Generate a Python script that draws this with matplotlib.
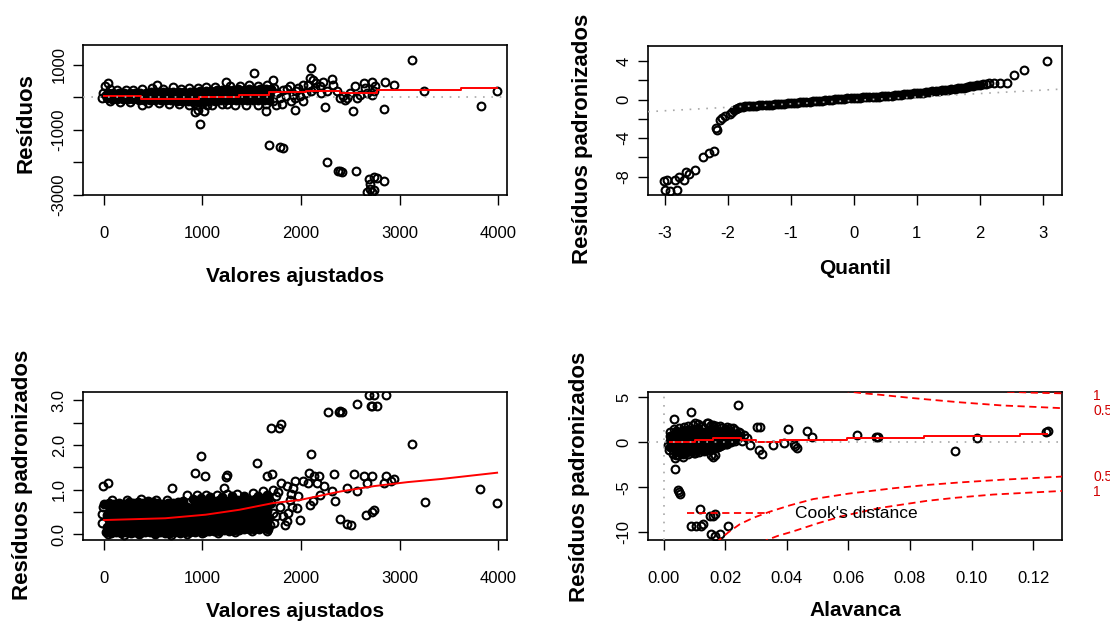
import matplotlib
matplotlib.use("Agg")
import matplotlib.pyplot as plt

plt.rcParams["font.family"] = ["Liberation Sans", "DejaVu Sans"]

MARKER_SIZE = 5.6
MARKER_EDGE = 1.5
RED = "#ff0000"
GRAY = "#a8a8a8"
DOTTED = (0, (1, 4))

# ---------------------------------------------------------------------------
# Panel 1: residuals vs fitted values
# The band near zero is so overplotted that it prints solid black, so its core
# is kept apart and drawn with filled markers.
# ---------------------------------------------------------------------------
P1_DENSE = [
    # middle of the band
    (20, 60), (70, 55), (125, 50), (180, 45), (235, 40), (290, 40), (345, 35), (400, 35),
    (455, 30), (510, 35), (565, 30), (620, 35), (675, 30), (730, 35), (785, 30), (840, 30),
    (895, 25), (950, 20), (1005, 30), (1060, 40), (1115, 50), (1170, 60), (1225, 70), (1280, 75),
    (1335, 80), (1390, 90), (1445, 90), (1500, 100), (1555, 100), (1610, 110), (1665, 110),
    # upper part of the band
    (40, 150), (95, 140), (150, 130), (205, 125), (260, 135), (315, 130), (370, 140), (425, 150),
    (480, 155), (540, 155), (595, 160), (650, 155), (705, 160), (760, 165), (815, 160), (870, 170),
    (925, 180), (980, 190), (1035, 205), (1090, 200), (1145, 220), (1200, 215), (1255, 230),
    (1310, 225), (1365, 245), (1420, 235), (1475, 255), (1530, 240), (1585, 260), (1640, 245),
    (1695, 270),
    # lower part of the band
    (30, -20), (80, -35), (135, -45), (190, -50), (245, -60), (300, -60), (355, -70), (410, -75),
    (465, -80), (520, -85), (575, -90), (630, -90), (685, -95), (740, -100), (795, -105),
    (850, -110), (905, -130), (960, -140), (1015, -130), (1070, -115), (1125, -105), (1180, -95),
    (1235, -90), (1290, -85), (1345, -90), (1400, -80), (1455, -85), (1510, -75), (1565, -85),
    (1620, -80), (1675, -90),
]
P1_POINTS = [
    # rings sticking out of the band
    (-10, 120), (60, 250), (130, 230), (220, 240), (300, 220), (390, 250), (486, 283), (537, 385),
    (600, 260), (700, 316), (780, 270), (860, 280), (950, 300), (1040, 320), (1130, 330),
    (1235, 490), (1280, 350), (1380, 360), (1470, 370), (1525, 745), (1560, 360), (1650, 380),
    (-15, -10), (60, -120), (160, -140), (260, -150), (382, -225), (450, -170), (560, -180),
    (660, -190), (760, -200), (860, -220), (940, -250), (1050, -230), (1100, -240), (1200, -190),
    (1250, -210), (1330, -230), (1440, -230), (1560, -250), (1640, -190),
    # thinner scatter after 1700
    (1679, 82), (1713, -122), (1747, -224), (1782, -20), (1808, -194), (1816, 235), (1850, 31),
    (1884, 337), (1901, -122), (1918, 82), (1952, 184), (1986, 31), (2020, -122), (2020, 388),
    (2055, 133), (2072, 388), (2090, 600), (2106, 184), (2125, 540), (2140, 286), (2157, 439),
    (2191, 337), (2208, 133), (2225, 490), (2259, 184), (1760, 150), (1730, 300), (1860, 250),
    (1940, -20), (1970, 300),
    (2328, 388), (2362, 184), (2396, -20), (2430, 31), (2447, -71), (2464, -20), (2498, 133),
    (2549, 337), (2567, -20), (2601, 82), (2652, 286), (2669, 133), (2720, 82), (2737, 184),
    (2754, 337),
    # isolated points
    (7, 337), (41, 439), (1713, 541), (2106, 898), (2311, 561), (3130, 1153), (2635, 439),
    (2720, 490), (2857, 490), (2942, 388), (3249, 184), (3990, 184), (3829, -255), (2840, -357),
    (2242, -306), (2532, -429), (1645, -429), (1935, -378), (1014, -429), (928, -459),
    (950, -400), (980, -816), (1679, -1469), (1782, -1520), (1816, -1551), (2266, -1980),
    (2379, -2265), (2396, -2280), (2413, -2296), (2560, -2265), (2686, -2520), (2737, -2469),
    (2771, -2500), (2703, -2673), (2840, -2571), (2669, -2908), (2703, -2827), (2720, -2929),
    (2737, -2870),
]
P1_SMOOTH_X = [0, 380, 960, 1370, 1680, 2050, 2400, 2770, 3620, 3990]
P1_SMOOTH_Y = [31, -51, 0, 71, 153, 184, 133, 214, 286, 286]

# ---------------------------------------------------------------------------
# Panel 2: normal Q-Q of the standardised residuals
# ---------------------------------------------------------------------------
P2_DENSE = [
    (-1.90, -1.08), (-1.87, -0.98), (-1.84, -0.90),
    (-1.80, -0.80), (-1.76, -0.75), (-1.72, -0.71), (-1.68, -0.68), (-1.64, -0.66),
    (-1.60, -0.64), (-1.55, -0.62), (-1.50, -0.60), (-1.45, -0.58), (-1.40, -0.56),
    (-1.35, -0.54), (-1.30, -0.52), (-1.25, -0.50), (-1.20, -0.48), (-1.15, -0.46),
    (-1.10, -0.43), (-1.05, -0.40), (-1.00, -0.37), (-0.95, -0.35), (-0.90, -0.33),
    (-0.85, -0.30), (-0.80, -0.27), (-0.75, -0.24), (-0.70, -0.21), (-0.65, -0.18),
    (-0.60, -0.15), (-0.55, -0.12), (-0.50, -0.10), (-0.45, -0.08), (-0.40, -0.05),
    (-0.35, -0.02), (-0.30, 0.01), (-0.25, 0.04), (-0.20, 0.07), (-0.15, 0.10),
    (-0.10, 0.12), (-0.05, 0.14), (0.00, 0.16), (0.05, 0.18), (0.10, 0.20),
    (0.15, 0.22), (0.20, 0.23), (0.25, 0.25), (0.30, 0.26), (0.35, 0.28),
    (0.40, 0.30), (0.45, 0.33), (0.50, 0.36), (0.55, 0.39), (0.60, 0.42),
    (0.65, 0.45), (0.70, 0.48), (0.75, 0.51), (0.80, 0.54), (0.85, 0.57),
    (0.90, 0.60), (0.95, 0.63), (1.00, 0.67), (1.05, 0.70), (1.10, 0.73),
    (1.15, 0.77), (1.20, 0.81), (1.25, 0.85), (1.30, 0.89), (1.35, 0.92),
    (1.40, 0.96), (1.45, 0.99), (1.50, 1.02), (1.55, 1.05), (1.60, 1.10),
    (1.65, 1.15), (1.70, 1.20), (1.75, 1.25), (1.80, 1.30), (1.85, 1.36),
    (1.90, 1.42), (1.95, 1.48), (2.00, 1.54),
]
P2_POINTS = [
    (-1.96, -1.45), (-1.93, -1.25), (2.05, 1.60), (2.10, 1.66), (2.15, 1.71),
    (2.23, 1.76), (2.33, 1.76), (2.44, 1.76), (2.55, 2.60), (2.71, 3.11), (3.07, 3.98),
    (-2.04, -1.73), (-2.09, -1.90), (-2.13, -2.08), (-2.17, -3.11), (-2.18, -3.00),
    (-2.22, -5.33), (-2.29, -5.54), (-2.40, -5.95), (-2.52, -7.34), (-2.62, -7.68),
    (-2.66, -7.51), (-2.69, -8.37), (-2.78, -8.03), (-2.83, -8.37), (-2.97, -8.37),
    (-3.01, -8.44), (-2.99, -9.34), (-2.91, -9.52), (-2.81, -9.41),
]
P2_LINE_INTERCEPT = -0.09
P2_LINE_SLOPE = 0.357

# ---------------------------------------------------------------------------
# Panel 3: sqrt(|standardised residuals|) vs fitted values
# ---------------------------------------------------------------------------
P3_DENSE = [
    # bottom of the cloud
    (20, 0.06), (70, 0.04), (120, 0.05), (170, 0.03), (220, 0.05), (270, 0.04), (320, 0.06),
    (370, 0.03), (420, 0.05), (470, 0.06), (520, 0.04), (570, 0.06), (620, 0.03), (670, 0.02),
    (720, 0.05), (770, 0.04), (820, 0.06), (870, 0.05), (920, 0.06), (970, 0.07), (1020, 0.05),
    (1070, 0.07), (1120, 0.08), (1170, 0.07), (1220, 0.09), (1270, 0.08), (1320, 0.10),
    (1370, 0.09), (1420, 0.12), (1470, 0.11), (1520, 0.13), (1570, 0.11), (1620, 0.14),
    (1670, 0.13),
    (30, 0.17), (90, 0.15), (150, 0.16), (210, 0.14), (270, 0.17), (330, 0.15), (390, 0.16),
    (450, 0.14), (510, 0.17), (570, 0.15), (630, 0.16), (690, 0.14), (750, 0.17), (810, 0.15),
    (870, 0.16), (930, 0.18), (990, 0.16), (1050, 0.18), (1110, 0.17), (1170, 0.19), (1230, 0.18),
    (1290, 0.20), (1350, 0.19), (1410, 0.22), (1470, 0.21), (1530, 0.23), (1590, 0.22), (1650, 0.24),
    (60, 0.30), (120, 0.29), (180, 0.31), (240, 0.30), (300, 0.28), (360, 0.31), (420, 0.29),
    (480, 0.30), (540, 0.31), (600, 0.29), (660, 0.30), (720, 0.28), (780, 0.31), (840, 0.30),
    (900, 0.31), (960, 0.30), (1020, 0.32), (1080, 0.31), (1140, 0.33), (1200, 0.32), (1260, 0.34),
    (1320, 0.33), (1380, 0.35), (1440, 0.34), (1500, 0.36), (1560, 0.35), (1620, 0.37), (1680, 0.36),
    (30, 0.44), (90, 0.43), (150, 0.45), (210, 0.44), (270, 0.42), (330, 0.45), (390, 0.43),
    (450, 0.44), (510, 0.45), (570, 0.43), (630, 0.44), (690, 0.46), (750, 0.45), (810, 0.47),
    (870, 0.46), (930, 0.48), (990, 0.47), (1050, 0.49), (1110, 0.48), (1170, 0.50), (1230, 0.49),
    (1290, 0.50), (1350, 0.51), (1410, 0.50), (1470, 0.52), (1530, 0.51), (1590, 0.53), (1650, 0.52),
    (60, 0.57), (120, 0.58), (180, 0.56), (240, 0.58), (300, 0.57), (360, 0.59), (420, 0.58),
    (480, 0.60), (540, 0.58), (600, 0.57), (660, 0.59), (720, 0.58), (780, 0.60), (840, 0.61),
    (900, 0.62), (960, 0.63), (1020, 0.64), (1080, 0.63), (1140, 0.65), (1200, 0.64), (1260, 0.66),
    (1320, 0.65), (1380, 0.67), (1440, 0.66), (1500, 0.68), (1560, 0.67), (1620, 0.69), (1680, 0.68),
    (930, 0.73), (990, 0.74), (1050, 0.75), (1110, 0.74), (1170, 0.76), (1230, 0.75), (1290, 0.77),
    (1350, 0.76), (1410, 0.78), (1470, 0.77), (1530, 0.79), (1590, 0.78), (1650, 0.80),
    # top of the cloud
    (0, 0.68), (50, 0.70), (100, 0.68), (150, 0.71), (200, 0.69), (250, 0.72), (300, 0.70),
    (350, 0.73), (400, 0.71), (450, 0.75), (500, 0.72), (550, 0.70), (600, 0.68), (650, 0.71),
    (700, 0.70), (750, 0.72), (800, 0.74), (900, 0.80), (990, 0.82), (1080, 0.84), (1200, 0.84),
    (1300, 0.85), (1420, 0.86), (1560, 0.86), (1650, 0.88),
]
P3_POINTS = [
    # rings sticking out of the cloud
    (-15, 0.25), (-15, 0.45), (-10, 0.62), (80, 0.76), (230, 0.78), (380, 0.79), (530, 0.78),
    (640, 0.76), (845, 0.87), (940, 0.87), (1032, 0.87), (1150, 0.88), (1250, 0.90),
    (1350, 0.90), (1511, 0.92), (1614, 0.96),
    (40, 0.00), (200, -0.01), (360, 0.00), (520, 0.00), (680, -0.01), (840, 0.01), (1000, 0.02),
    (1160, 0.03), (1330, 0.05), (1500, 0.07), (1650, 0.08),
    # isolated points
    (-10, 1.09), (41, 1.14), (690, 1.04), (981, 1.75), (923, 1.38), (1022, 1.30), (1248, 1.32),
    (1240, 1.28), (1221, 1.04), (1556, 1.60), (1658, 1.30), (1706, 1.34), (1692, 2.39),
    (1778, 2.39), (1802, 2.47),
    (1716, 1.00), (1750, 0.85), (1785, 0.62), (1819, 0.40), (1836, 0.21), (1870, 0.47),
    (1887, 0.77), (1921, 1.04), (1938, 1.19), (1955, 0.59), (1990, 0.32), (1973, 0.85),
    (1904, 0.62), (1853, 1.08), (1802, 1.15), (1750, 0.40), (1716, 0.47), (1682, 0.21),
    (1700, 0.70), (1730, 0.25), (1770, 0.95), (1860, 0.30), (1900, 0.90),
    (2024, 1.19), (2075, 1.15), (2099, 1.79), (2085, 1.38), (2127, 1.30), (2161, 1.15),
    (2178, 1.30), (2092, 0.66), (2120, 0.74), (2195, 0.89), (2229, 1.08),
    (2270, 2.74), (2383, 2.74), (2400, 2.77), (2415, 2.74), (2332, 1.34), (2315, 0.96),
    (2349, 0.74), (2400, 0.34), (2468, 0.23), (2503, 0.21), (2468, 1.04), (2564, 0.96),
    (2564, 2.92), (2537, 1.34), (2640, 1.30), (2674, 1.15), (2725, 1.30), (2656, 0.44),
    (2742, 0.55), (2725, 0.49), (2690, 3.11), (2742, 3.12), (2708, 2.88), (2725, 2.88),
    (2776, 2.88), (2862, 3.11), (2862, 1.30), (2913, 1.19), (2844, 1.15), (2947, 1.23),
    (3128, 2.02), (3255, 0.72), (3819, 1.02), (3990, 0.70),
]
P3_SMOOTH_X = [0, 622, 1032, 1374, 1716, 1990, 2400, 2742, 3084, 3426, 3990]
P3_SMOOTH_Y = [0.32, 0.36, 0.44, 0.55, 0.70, 0.77, 0.96, 1.08, 1.17, 1.24, 1.38]

# ---------------------------------------------------------------------------
# Panel 4: standardised residuals vs leverage, with Cook's distance contours
# ---------------------------------------------------------------------------
P4_DENSE = [
    (0.0022, -0.5), (0.0022, 0.1), (0.0022, 0.7),
    (0.0040, -1.1), (0.0040, -0.8), (0.0040, -0.2), (0.0040, 0.4), (0.0040, 1.0), (0.0040, 1.3),
    (0.0058, -1.2), (0.0058, -0.9), (0.0058, -0.3), (0.0058, 0.3), (0.0058, 0.9), (0.0058, 1.3),
    (0.0076, -1.1), (0.0076, -0.8), (0.0076, -0.2), (0.0076, 0.4), (0.0076, 1.0), (0.0076, 1.4),
    (0.0094, -1.0), (0.0094, -0.7), (0.0094, -0.1), (0.0094, 0.5), (0.0094, 1.1), (0.0094, 1.5),
    (0.0112, -0.9), (0.0112, -0.6), (0.0112, 0.0), (0.0112, 0.6), (0.0112, 1.2), (0.0112, 1.6),
    (0.0130, -0.8), (0.0130, -0.5), (0.0130, 0.1), (0.0130, 0.7), (0.0130, 1.2),
    (0.0148, -0.7), (0.0148, -0.3), (0.0148, 0.3), (0.0148, 0.9), (0.0148, 1.4),
    (0.0166, -0.6), (0.0166, -0.2), (0.0166, 0.4), (0.0166, 1.0), (0.0166, 1.5),
    (0.0184, -0.4), (0.0184, 0.1), (0.0184, 0.7), (0.0184, 1.2),
    (0.0202, -0.2), (0.0202, 0.3), (0.0202, 0.9), (0.0202, 1.3),
    (0.0220, 0.1), (0.0220, 0.6), (0.0220, 1.1),
    (0.0238, 0.4), (0.0238, 0.9),
]
P4_POINTS = [
    # edge of the cloud
    (0.0020, 1.2), (0.0034, 1.5), (0.0050, 1.6), (0.0065, 1.7), (0.0080, 1.8), (0.0095, 1.9),
    (0.0110, 2.0), (0.0125, 1.8), (0.0140, 2.1), (0.0155, 1.9), (0.0170, 1.8), (0.0185, 1.6),
    (0.0200, 1.5), (0.0215, 1.6), (0.0230, 1.4), (0.0245, 1.1), (0.0260, 0.8), (0.0240, 0.5),
    (0.0230, 0.1), (0.0255, 0.2),
    (0.0015, -0.3), (0.0018, -0.9), (0.0030, -1.3), (0.0045, -1.4), (0.0062, -1.3),
    (0.0080, -1.3), (0.0098, -1.2), (0.0115, -1.1), (0.0130, -1.0), (0.0145, -0.8),
    (0.0160, -0.7), (0.0175, -0.5), (0.0190, -0.3), (0.0205, -0.2), (0.0220, 0.0),
    (0.0036, -1.79), (0.0041, -1.42), (0.0063, -1.60), (0.0101, -1.23), (0.0155, -1.40),
    (0.0161, -1.60), (0.0166, -1.45),
    (0.0034, 2.61), (0.0090, 3.36), (0.0240, 4.18), (0.0101, 2.13), (0.0144, 2.13),
    (0.0161, 1.94), (0.0182, 1.83), (0.0204, 1.68), (0.0226, 1.57), (0.0247, 1.00),
    (0.0269, 0.45),
    # higher leverage
    (0.0280, -0.30), (0.0310, -0.86), (0.0320, -1.34), (0.0302, 1.68), (0.0312, 1.75),
    (0.0356, -0.30), (0.0391, -0.04), (0.0405, 1.46), (0.0426, -0.41), (0.0432, -0.67),
    (0.0423, -0.19), (0.0464, 1.31), (0.0481, 0.63), (0.0627, 0.82), (0.0688, 0.65),
    (0.0696, 0.60), (0.0947, -0.97), (0.1018, 0.45), (0.1242, 1.17), (0.1248, 1.22),
    # large negative residuals
    (0.0036, -2.99), (0.0047, -5.34), (0.0050, -5.52), (0.0052, -5.71), (0.0119, -7.39),
    (0.0090, -9.25), (0.0106, -9.25), (0.0122, -9.25), (0.0128, -9.07), (0.0150, -8.13),
    (0.0160, -8.13), (0.0166, -7.95), (0.0155, -10.19), (0.0166, -10.37), (0.0182, -10.19),
    (0.0209, -9.25),
]
P4_SMOOTH_X = [0.002, 0.0100, 0.0160, 0.0250, 0.0300, 0.0378, 0.0595, 0.0844, 0.1159, 0.1245]
P4_SMOOTH_Y = [0.0, 0.25, 0.45, 0.25, 0.0, 0.25, 0.45, 0.70, 0.95, 0.95]

COOK_UPPER_05 = [(0.058, 5.8), (0.0605, 5.63), (0.065, 5.45), (0.070, 5.3), (0.080, 4.95),
                 (0.088, 4.7), (0.0963, 4.45), (0.103, 4.28), (0.110, 4.1), (0.120, 3.95),
                 (0.1294, 3.8)]
COOK_UPPER_1 = [(0.104, 5.9), (0.112, 5.62), (0.120, 5.52), (0.1294, 5.45)]
COOK_LOWER_05 = [(0.0170, -11.2), (0.0179, -10.87), (0.021, -10.0), (0.0247, -9.1),
                 (0.029, -8.4), (0.0345, -7.7), (0.041, -7.0), (0.0486, -6.3), (0.060, -5.7),
                 (0.0746, -5.1), (0.085, -4.75), (0.0963, -4.45), (0.110, -4.15), (0.1294, -3.8)]
COOK_LOWER_1 = [(0.0320, -11.3), (0.0334, -10.87), (0.037, -10.4), (0.042, -9.9),
                (0.050, -9.0), (0.058, -8.2), (0.070, -7.3), (0.0855, -6.5), (0.095, -6.15),
                (0.107, -5.8), (0.118, -5.6), (0.1294, -5.4)]
COOK_LABELS = ["1", "0.5", "0.5", "1"]
COOK_LABEL_Y = [5.15, 3.5, -3.85, -5.5]
COOK_LEGEND_H = [0.0075, 0.0345]
COOK_LEGEND_Y = [-7.8, -7.8]


def draw_cloud(ax, dense, points):
    xs, ys = zip(*points)
    ax.plot(xs, ys, linestyle="none", marker="o", ms=MARKER_SIZE, mfc="none",
            mec="black", mew=MARKER_EDGE, zorder=2)
    if dense:
        xs, ys = zip(*dense)
        ax.plot(xs, ys, linestyle="none", marker="o", ms=MARKER_SIZE, mfc="black",
                mec="black", mew=MARKER_EDGE, zorder=2)


def style_axes(ax, xlim, ylim, xticks, xticklabels, yticks, yticklabels,
               xlabel, ylabel, xlab_y, ylab_x, ylab_y):
    ax.set_xlim(*xlim)
    ax.set_ylim(*ylim)
    ax.set_xticks(xticks, xticklabels)
    ax.set_yticks(yticks, yticklabels, rotation=90, va="center")
    ax.tick_params(direction="out", length=7.5, width=1.0, labelsize=12, color="black")
    ax.tick_params(axis="x", pad=14.5)
    ax.tick_params(axis="y", pad=4.3)
    for spine in ax.spines.values():
        spine.set_linewidth(1.2)
    ax.set_xlabel(xlabel, fontsize=15, fontweight="bold", va="center")
    ax.xaxis.set_label_coords(0.5, xlab_y)
    ax.set_ylabel(ylabel, fontsize=16, fontweight="bold", va="center")
    ax.yaxis.set_label_coords(ylab_x, ylab_y)


def dashed_curve(ax, pts):
    xs, ys = zip(*pts)
    ax.plot(xs, ys, color=RED, lw=1.3, linestyle=(0, (4, 2.5)), zorder=4)


def main():
    fig = plt.figure(figsize=(11.1, 6.21), dpi=100)
    fig.patch.set_facecolor("white")

    ax1 = fig.add_axes([0.0748, 0.6860, 0.3820, 0.2415])
    ax2 = fig.add_axes([0.5838, 0.6860, 0.3730, 0.2399])
    ax3 = fig.add_axes([0.0748, 0.1304, 0.3820, 0.2383])
    ax4 = fig.add_axes([0.5838, 0.1304, 0.3730, 0.2383])

    # 1. residuos x ajustados
    draw_cloud(ax1, P1_DENSE, P1_POINTS)
    ax1.plot(P1_SMOOTH_X, P1_SMOOTH_Y, color=RED, lw=1.4, drawstyle="steps-post", zorder=3)
    ax1.axhline(0, color=GRAY, lw=1.2, linestyle=DOTTED, zorder=5)
    style_axes(ax1, (-212, 4091), (-3010, 1615),
               [0, 1000, 2000, 3000, 4000], ["0", "1000", "2000", "3000", "4000"],
               [-3000, -2000, -1000, 0, 1000], ["-3000", "", "-1000", "", "1000"],
               "Valores ajustados", "Resíduos", -0.543, -0.134, 0.48)

    # 2. Q-Q normal
    draw_cloud(ax2, P2_DENSE, P2_POINTS)
    ax2.axline((0, P2_LINE_INTERCEPT), slope=P2_LINE_SLOPE, color=GRAY, lw=1.2,
               linestyle=DOTTED, zorder=5)
    style_axes(ax2, (-3.265, 3.307), (-9.90, 5.556),
               [-3, -2, -1, 0, 1, 2, 3], ["-3", "-2", "-1", "0", "1", "2", "3"],
               [-8, -6, -4, -2, 0, 2, 4], ["-8", "", "-4", "", "0", "", "4"],
               "Quantil", "Resíduos padronizados", -0.493, -0.159, 0.38)

    # 3. escala-locacao
    draw_cloud(ax3, P3_DENSE, P3_POINTS)
    ax3.plot(P3_SMOOTH_X, P3_SMOOTH_Y, color=RED, lw=1.4, zorder=3)
    style_axes(ax3, (-212, 4091), (-0.127, 3.186),
               [0, 1000, 2000, 3000, 4000], ["0", "1000", "2000", "3000", "4000"],
               [0, 0.5, 1.0, 1.5, 2.0, 2.5, 3.0], ["0.0", "", "1.0", "", "2.0", "", "3.0"],
               "Valores ajustados", "Resíduos padronizados", -0.48, -0.142, 0.44)

    # 4. residuos x alavanca
    draw_cloud(ax4, P4_DENSE, P4_POINTS)
    ax4.plot(P4_SMOOTH_X, P4_SMOOTH_Y, color=RED, lw=1.4, drawstyle="steps-post", zorder=3)
    ax4.axhline(0, color=GRAY, lw=1.2, linestyle=DOTTED, zorder=5)
    ax4.axvline(0, color=GRAY, lw=1.2, linestyle=DOTTED, zorder=5)
    for curve in (COOK_UPPER_05, COOK_UPPER_1, COOK_LOWER_05, COOK_LOWER_1):
        dashed_curve(ax4, curve)
    ax4.plot(COOK_LEGEND_H, COOK_LEGEND_Y, color=RED, lw=1.3, linestyle=(0, (4, 2.5)), zorder=4)
    ax4.text(0.0428, -7.9, "Cook's distance", fontsize=12.5, ha="left", va="center", zorder=6)
    for label, y in zip(COOK_LABELS, COOK_LABEL_Y):
        ax4.text(1.075, y, label, transform=ax4.get_yaxis_transform(), color="#d00000",
                 fontsize=10, ha="left", va="center", clip_on=False)
    style_axes(ax4, (-0.0051, 0.1294), (-10.854, 5.594),
               [0, 0.02, 0.04, 0.06, 0.08, 0.10, 0.12],
               ["0.00", "0.02", "0.04", "0.06", "0.08", "0.10", "0.12"],
               [-10, -5, 0, 5], ["-10", "-5", "0", "5"],
               "Alavanca", "Resíduos padronizados", -0.473, -0.165, 0.43)

    fig.savefig("out.png", dpi=100)


if __name__ == "__main__":
    main()
